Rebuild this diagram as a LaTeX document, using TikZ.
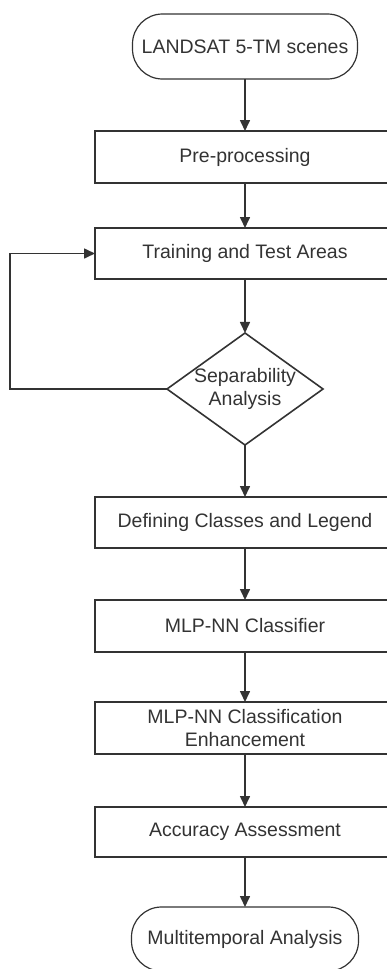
\documentclass[tikz,border=0pt]{standalone}
\usepackage{fontspec}
\setmainfont{Liberation Sans}
\usetikzlibrary{positioning,shapes.geometric,arrows.meta}
\definecolor{linegray}{HTML}{333333}

\begin{document}
\begin{tikzpicture}[node distance={52pt}, line width=1.6pt, color=linegray,
        >={Triangle[length=11pt,width=10pt]},
        every node/.style = {font=\fontsize{19.5}{23.5}\selectfont, outer sep=0pt},
        box/.style = {draw, rectangle, minimum width=300pt, minimum height=52pt, align=center},
        term/.style = {draw, rectangle, rounded corners=30pt, minimum width=225pt, minimum height=65pt, line width=1.2pt},
        decision/.style = {draw, diamond, minimum width=156pt, minimum height=112pt, inner sep=0pt}]
        \useasboundingbox (0,0) rectangle (387pt,-969pt);
        \clip (0,0) rectangle (387pt,-969pt);

        \node[term] (start) at (245pt,-46.5pt) {LANDSAT 5-TM scenes};
        \node[box] (pre) [below=of start] {Pre-processing};
        \node[box, minimum height=51pt] (train) [below=45pt of pre] {Training and Test Areas};
        \node[decision, label={[align=center]center:Separability\\Analysis}] (sep) [below=54pt of train] {};
        \node[box, minimum height=51pt] (classes) [below=of sep] {Defining Classes and Legend};
        \node[box] (mlp) [below=of classes] {MLP-NN Classifier};
        \node[box] (enh) [below=50pt of mlp] {MLP-NN Classification\\Enhancement};
        \node[box, minimum height=50pt] (acc) [below=53pt of enh] {Accuracy Assessment};
        \node[term, minimum width=227pt, minimum height=64pt] (stop) [below=50pt of acc] {Multitemporal Analysis};

        \draw[->] (start) -- (pre);
        \draw[->] (pre) -- (train);
        \draw[->] (train) -- (sep);
        \draw[->] (sep) -- (classes);
        \draw[->] (classes) -- (mlp);
        \draw[->] (mlp) -- (enh);
        \draw[->] (enh) -- (acc);
        \draw[->] (acc) -- (stop);
        \draw[->] (sep.west) -- ++(-157pt,0) |- (train.west);
    \end{tikzpicture}
\end{document}
